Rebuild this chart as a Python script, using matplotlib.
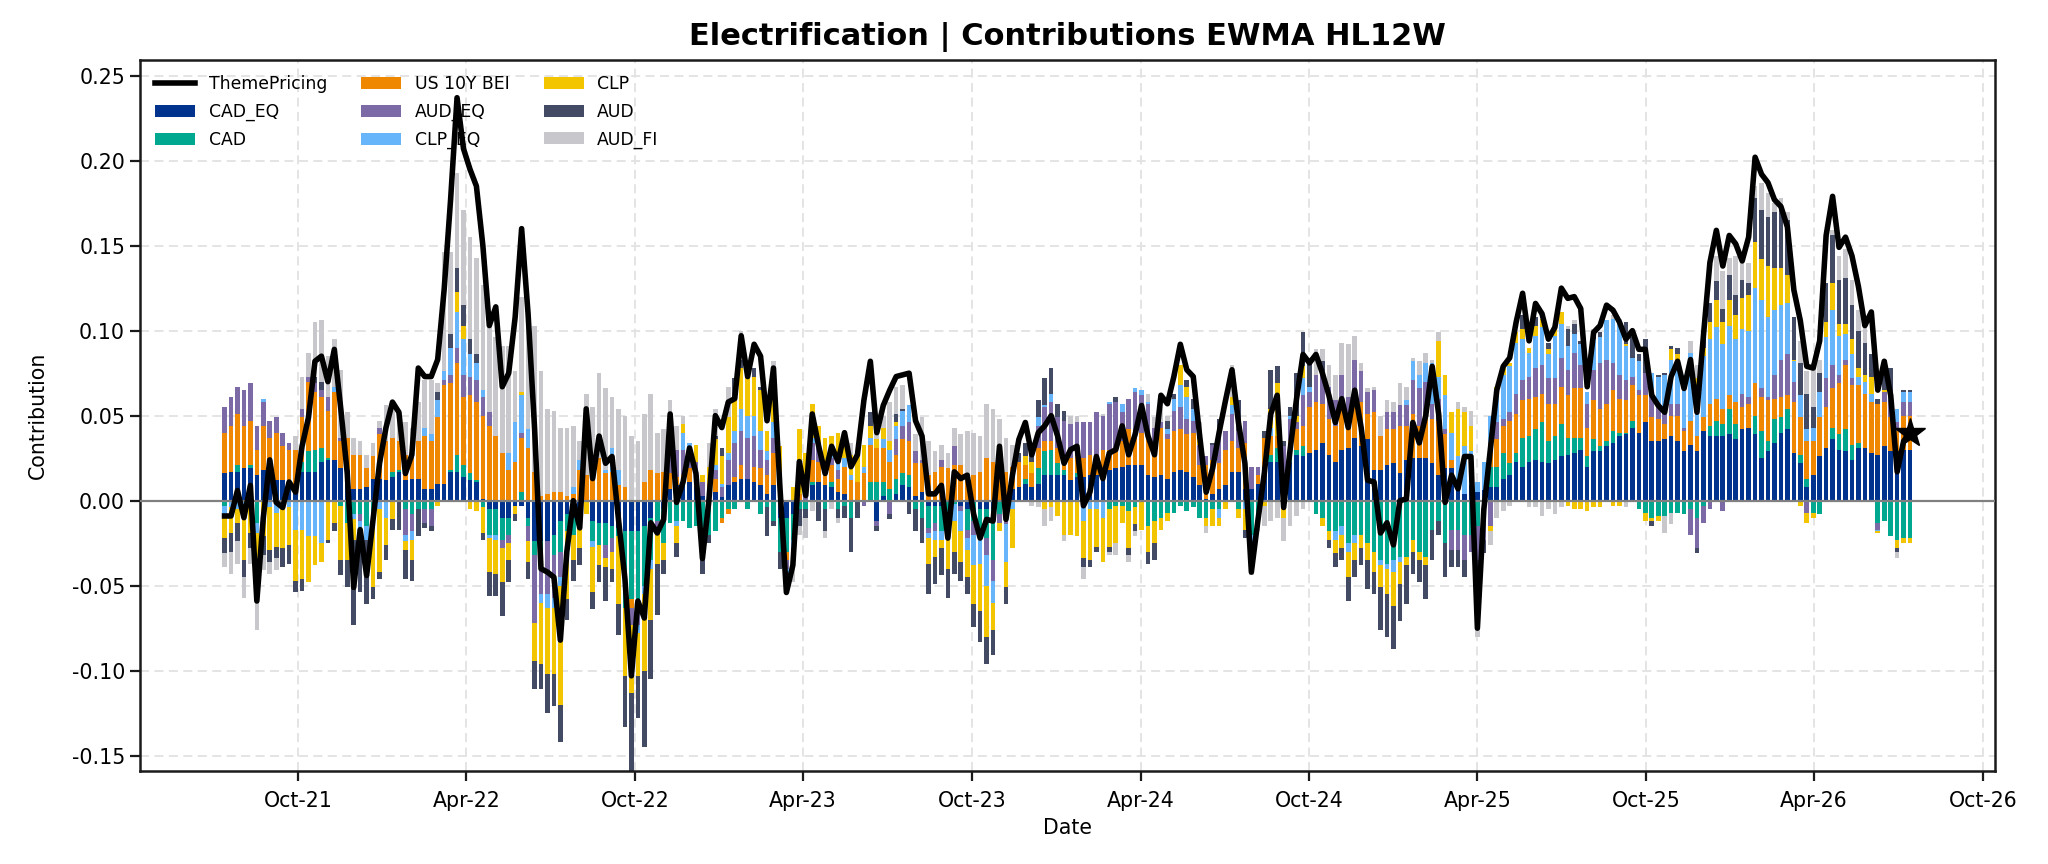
import numpy as np
import pandas as pd
import matplotlib
matplotlib.use("Agg")
import matplotlib.pyplot as plt
import matplotlib.dates as mdates
from matplotlib.patches import Patch
from matplotlib.lines import Line2D

# ---------------- data (values in thousandths) ----------------
start_date = "2021-07-13"
n_weeks = 262

theme_pricing = [
    -9, -9, 6, -10, 9, -59, -10, 24, -1, -4,
    11, 5, 32, 49, 82, 85, 70, 89, 54, 16,
    -51, -17, -44, -11, 22, 43, 58, 52, 16, 27,
    78, 73, 73, 83, 124, 177, 237, 207, 195, 185,
    150, 103, 114, 67, 75, 108, 160, 110, 43, -40,
    -42, -45, -82, -30, 0, -16, 54, 13, 38, 22,
    26, -11, -46, -103, -59, -69, -13, -19, -11, 51,
    -1, 11, 31, 16, -34, 0, 50, 43, 58, 60,
    97, 73, 92, 85, 47, 78, 8, -54, -38, 23,
    3, 51, 32, 16, 32, 23, 40, 20, 27, 59,
    82, 40, 56, 65, 73, 74, 75, 47, 38, 4,
    4, 9, -22, 17, 13, 15, -8, -22, -11, -12,
    32, -11, 15, 36, 46, 27, 40, 44, 50, 38,
    22, 30, 32, -3, 5, 26, 13, 28, 30, 44,
    27, 39, 56, 38, 27, 62, 57, 73, 92, 77,
    73, 38, 5, 19, 40, 59, 77, 46, 22, -42,
    -12, 16, 51, 62, -4, 30, 60, 86, 81, 86,
    75, 62, 46, 60, 43, 65, 43, 12, 11, -19,
    -13, -26, 0, 1, 46, 34, 50, 79, 51, -1,
    15, 7, 26, 26, -75, -5, 30, 65, 79, 84,
    105, 122, 94, 116, 110, 95, 102, 125, 119, 120,
    113, 67, 99, 103, 115, 112, 105, 95, 100, 89,
    89, 62, 56, 52, 73, 82, 66, 83, 52, 97,
    140, 159, 138, 156, 151, 141, 155, 202, 192, 187,
    177, 173, 161, 124, 106, 79, 78, 94, 156, 179,
    149, 155, 144, 126, 103, 111, 65, 82, 62, 17,
    35, 40,
]

cad_eq = [
    16, 17, 17, 19, 19, 15, 18, 17, 12, 12,
    11, 6, 17, 17, 17, 23, 24, 24, 19, 18,
    7, 7, 8, 13, 13, 12, 14, 17, 12, 13,
    13, 7, 7, 10, 10, 17, 17, 14, 12, 11,
    1, -5, -5, -10, -10, -3, -3, -10, -24, -24,
    -24, -20, -12, -8, -10, -10, 0, -12, -13, -13,
    -15, -16, -18, -18, -18, -15, -10, 0, -5, 7,
    9, 10, 11, 8, 3, 2, 5, 2, 9, 11,
    13, 13, 11, 9, 4, 9, -10, -10, -8, 0,
    0, 9, 11, 9, 8, 5, 4, 0, 0, 0,
    0, -12, 3, 0, 4, 9, 8, 3, 5, -3,
    -3, -3, 0, 0, -3, -5, 0, -5, -5, -5,
    0, 0, 7, 8, 10, 8, 10, 15, 15, 15,
    15, 12, 14, 14, 15, 15, 17, 18, 19, 20,
    21, 21, 21, 15, 14, 15, 13, 17, 18, 17,
    14, 9, 1, 4, 7, 9, 17, 17, 7, 7,
    10, 20, 23, 23, 12, 23, 27, 26, 28, 30,
    34, 27, 23, 30, 31, 37, 32, 36, 18, 18,
    21, 22, 16, 24, 25, 25, 25, 22, 15, 19,
    19, 8, 4, 9, 5, 6, 8, 8, 13, 15,
    23, 20, 23, 24, 23, 22, 24, 26, 27, 28,
    30, 20, 29, 29, 32, 34, 38, 39, 43, 40,
    46, 35, 35, 36, 38, 35, 29, 33, 29, 41,
    38, 38, 38, 39, 36, 42, 43, 39, 25, 29,
    34, 40, 42, 28, 22, 8, 15, 26, 31, 36,
    30, 29, 24, 31, 31, 28, 27, 32, 29, 29,
    30, 30,
]

cad = [
    -3, 0, 4, 0, 2, -13, 0, 0, -2, 0,
    0, 2, 6, 12, 13, 8, 1, 0, -3, -13,
    -8, -8, -15, -12, 0, 0, 3, 1, -5, -8,
    -5, -5, -5, 0, 0, 1, 10, 7, 4, 1,
    -4, -15, -15, -13, -10, 0, 5, -5, -8, -8,
    0, -12, -18, -10, -10, -5, 0, -12, -13, -13,
    -7, -5, -45, -40, -40, -35, -25, -12, -20, -13,
    -12, -12, -16, -15, -30, -20, -18, -10, -5, -5,
    0, -5, 0, -8, -4, -12, -20, -20, -15, -5,
    -5, 2, 0, -5, 3, -5, -3, -10, 0, 0,
    11, 11, 8, 7, 9, 7, 7, -5, -10, -13,
    -10, -15, -15, -2, 0, -12, -12, -17, -17, -30,
    -8, -8, 0, 0, 3, 0, 9, 14, 15, 7,
    3, 0, 2, 0, 0, 0, 0, -5, -3, -3,
    -6, -4, 0, -15, -12, -10, -7, -7, -3, -6,
    -4, -10, -10, -5, -5, 0, 0, -5, 0, -20,
    -10, 0, 4, 8, 0, 4, 3, 6, 0, -8,
    -10, -18, -18, -15, -25, -20, -20, -25, -30, -35,
    -37, -35, -33, -33, -23, -30, -33, -17, -12, -25,
    -17, -17, -20, -20, -15, -8, 12, 12, 15, 7,
    5, 17, 15, 18, 23, 13, 14, 19, 10, 9,
    7, 6, 7, 3, 3, 7, 2, 1, 4, -5,
    -7, -10, -9, -9, -7, -7, -8, -5, -10, -3,
    6, 9, 7, 15, 9, 0, 0, 11, 16, 6,
    14, 9, 12, 0, 5, 5, -7, -8, 0, 7,
    9, 13, 9, 3, 0, 0, -13, -12, -21, -23,
    -22, -22,
]

us_10y_bei = [
    24, 27, 30, 25, 26, 15, 26, 20, 28, 20,
    19, 22, 26, 41, 34, 30, 28, 40, 16, 19,
    20, 20, 11, 13, 26, 23, 20, 17, 15, 13,
    22, 31, 28, 39, 58, 51, 54, 40, 46, 46,
    49, 44, 38, 28, 18, 23, 32, 31, 17, 3,
    4, 5, 5, 3, 4, 18, 15, 22, 25, 16,
    17, 9, 8, -5, 0, 11, 18, 16, 17, 9,
    5, 5, 8, 10, 0, 8, 8, -3, -3, 3,
    8, 0, 9, 10, 11, 19, 5, -5, 0, 4,
    0, 13, 12, 8, 10, 8, 16, 12, 11, 16,
    22, 20, 20, 16, 14, 20, 20, 19, 17, 15,
    17, 20, 19, 21, 21, 15, 15, 17, 25, 23,
    20, 17, 13, 15, 8, 8, 12, 6, 5, 9,
    8, 13, 10, 11, 12, 12, 13, 12, 10, 15,
    21, 16, 19, 22, 17, 28, 23, 24, 24, 22,
    26, 12, 20, 20, 15, 21, 18, 14, 27, 0,
    5, 17, 11, 7, 0, 8, 12, 12, 27, 28,
    23, 21, 21, 24, 20, 18, 26, 15, 34, 20,
    21, 20, 28, 20, 26, 19, 26, 26, 32, 20,
    5, 0, 0, 0, 0, 0, 14, 16, 16, 25,
    23, 22, 22, 19, 17, 22, 19, 22, 25, 29,
    29, 17, 23, 22, 22, 24, 20, 19, 21, 22,
    16, 14, 13, 9, 12, 15, 12, 14, 9, 8,
    13, 13, 9, 8, 13, 13, 14, 19, 20, 24,
    12, 12, 8, 30, 22, 22, 20, 23, 24, 23,
    30, 38, 35, 34, 32, 30, 30, 26, 20, 12,
    20, 20,
]

aud_eq = [
    15, 17, 16, 21, 22, 14, 14, 10, 9, 8,
    4, 0, 5, 3, 5, 4, 8, 0, 2, 0,
    0, -4, 0, 0, 4, 0, 0, 0, -15, -10,
    0, -8, -10, 0, 3, 5, 9, 13, 11, 13,
    11, 8, 0, -5, -5, 0, 3, -9, -40, -23,
    -31, -25, -15, 0, 0, 0, 0, 5, 0, -8,
    -8, 0, 0, -10, -15, 0, 0, -5, 0, 10,
    16, 15, 10, 5, 8, 0, 5, 6, 15, 20,
    20, 24, 18, 11, 9, 9, 5, -5, 0, 0,
    10, 10, 8, 5, 4, 5, 0, 0, 0, -3,
    0, -3, 0, -8, 9, 8, 11, 7, 2, -3,
    -5, 4, 0, 11, -3, -5, -8, 0, -10, -12,
    -5, -6, 0, 0, 0, 0, 13, 20, 23, 18,
    21, 20, 20, 21, 19, 25, 20, 27, 29, 17,
    18, 27, 22, 20, 12, 3, 3, 12, 13, 9,
    7, 12, 5, 9, 18, 11, 16, 10, 13, 13,
    5, 0, 0, 0, 20, 13, 4, 18, 9, 16,
    19, 19, 15, 20, 10, 28, 18, 13, 13, 0,
    10, 10, 12, 12, 20, 22, 19, 9, 13, 3,
    -12, -12, -15, -10, -20, -15, -15, 10, 4, 5,
    12, 12, 13, 17, 17, 15, 15, 17, 15, 21,
    14, 14, 18, 27, 26, 16, 14, 12, 5, 3,
    13, 14, 8, 9, 7, 7, 2, -15, -18, -10,
    -5, 0, -6, 0, 0, 8, 4, 0, 5, 2,
    14, 22, 24, 12, 0, -7, 0, 0, 17, 14,
    5, 3, 4, 0, 0, 0, -4, 6, 10, 5,
    8, 8,
]

clp_eq = [
    -5, -4, -5, -3, -3, -6, 2, -4, -5, -3,
    -4, -17, -17, -21, -21, -25, 0, 3, 0, 0,
    -3, -10, -8, -4, -5, -10, 0, 0, -4, -5,
    0, 5, 4, 10, 5, 16, 21, 21, 13, 10,
    4, -2, -3, 0, 10, 23, 22, 11, 0, -5,
    -8, -6, -5, 0, 4, 6, 0, -3, 0, 2,
    14, 9, 0, 0, -5, -5, -5, 0, 0, 0,
    -3, 10, 5, 0, -3, 0, 3, 2, 4, 7,
    13, 13, 12, 11, 5, 9, 0, -5, -5, 0,
    0, 3, 3, 0, 3, 7, 5, 3, 0, 4,
    4, 0, 5, 7, 8, 9, 10, 0, 0, -3,
    -5, -5, -5, -10, -12, -7, -18, -15, -18, -13,
    0, -22, -5, 0, 0, 0, 5, 1, 5, 0,
    0, 0, 0, -12, -5, -5, -10, 1, 0, 5,
    0, 2, 3, 1, 0, 0, 3, 7, 13, 13,
    7, 0, 0, 0, -5, 0, 5, 0, -5, -10,
    0, 0, 5, 0, 0, 2, 0, 10, 3, 0,
    0, 0, -5, -5, -5, -5, 0, 0, 0, -3,
    -3, -7, -3, 3, 11, 8, 11, 24, 13, 20,
    16, 18, 28, 20, 6, 17, 16, 16, 26, 27,
    30, 24, 14, 19, 22, 14, 25, 20, 14, 11,
    12, 7, 18, 15, 23, 26, 30, 20, 11, 17,
    0, 12, 17, 20, 26, 26, 31, 40, 29, 36,
    38, 42, 38, 41, 37, 38, 39, 56, 52, 47,
    38, 32, 30, 12, 13, 7, 8, 15, 24, 32,
    23, 15, 14, 5, 7, 5, -1, 0, 5, 8,
    6, 6,
]

clp = [
    -14, -15, -8, -32, -16, -20, -21, -25, -20, -25,
    -22, -30, -29, -27, -17, -11, -23, -13, -32, -22,
    -12, -5, 0, -35, -37, -16, -11, 0, -5, -12,
    0, 0, 0, -3, 0, 0, 12, 8, -5, -6,
    -15, -20, -20, -20, -10, -5, 2, -12, -22, -36,
    -39, -39, -70, -40, -15, -13, -8, -27, -12, -5,
    -10, -40, -40, -40, -25, -45, -30, -20, -10, 0,
    -10, 5, 0, 10, 4, 10, 15, 16, 21, 19,
    24, 22, 23, 24, 12, 28, 22, 0, 8, 38,
    18, 20, 10, 15, 10, 15, 7, 12, 17, 13,
    7, 5, 7, 5, 2, 0, 0, 0, 0, -15,
    -10, -5, -20, -18, -18, -16, -23, -28, -30, -16,
    -5, -15, -23, 0, 5, 7, 0, -5, -4, -9,
    -20, -20, -21, -22, -30, -22, -26, -22, -22, -10,
    -22, -10, -17, -15, -13, -7, -5, 0, 12, 6,
    0, 3, -5, -10, -5, -5, 5, -5, -12, 0,
    0, -3, 11, 31, -10, 0, 4, 7, 0, 0,
    -5, -5, -8, -8, -15, -10, -8, -10, -12, -13,
    -15, -20, -13, -5, -7, -5, -5, 0, 21, 12,
    12, 28, 20, 15, 0, 0, -3, 5, 6, 2,
    6, 6, 3, 6, 5, 3, 4, 7, -3, -5,
    -5, -6, -4, -4, 0, -3, -3, 1, 0, 0,
    -5, -2, -3, 0, 6, 3, 0, 0, 5, 5,
    10, 16, 13, 15, 14, 18, 21, 27, 24, 30,
    25, 22, 17, 1, -3, -6, -3, 0, 9, 16,
    7, 6, 9, 5, 4, 10, -1, 1, 0, -5,
    -3, -3,
]

aud = [
    -9, -11, -11, -10, -9, -10, -11, -7, -7, -11,
    -11, -7, -7, 0, 4, 5, -2, -5, -9, -16,
    -50, -27, -38, -7, -4, -9, -6, -17, -17, -12,
    -16, -3, -3, 5, 0, 8, 14, 12, 9, 5,
    -4, -14, -13, -20, -13, -4, 0, -10, -17, -15,
    -23, -19, -22, -12, -12, -10, 0, -10, -10, -20,
    -8, -18, -30, -50, -25, -45, -35, -30, -8, 0,
    -8, 0, 0, 0, -10, -5, 2, 5, 0, 12,
    5, 4, 5, 2, -17, -3, -10, 0, -10, -10,
    -5, 0, -12, -13, 0, -5, -7, -20, -10, 0,
    8, -3, 0, -3, 5, 1, -8, -13, -15, -18,
    -16, -16, -17, -13, -11, -10, -13, -18, -16, -15,
    0, -10, 0, 5, 8, 5, 10, 16, 15, 8,
    6, 0, 0, -5, -4, -3, 0, -3, 3, 0,
    -4, -4, 0, -7, -10, 0, 5, 3, 0, 4,
    6, 5, 0, 1, 8, 0, 0, 18, -5, 0,
    0, 4, 23, 10, 3, 5, 25, 20, 14, 0,
    6, -5, -8, -7, -14, -10, -10, -17, -13, -25,
    -25, -25, -22, -23, -13, -13, -20, -18, -8, -20,
    -10, -10, -10, 0, -5, -8, 0, 0, 0, 0,
    0, 8, 0, 5, 0, 4, 0, 0, 10, 6,
    2, 0, 4, 3, 0, 0, 0, 13, 12, 4,
    20, -3, 1, 1, 2, 4, 0, 0, -3, 6,
    11, 11, 8, 15, 12, 11, 7, 26, 29, 29,
    33, 35, 32, 25, 19, 21, 12, 11, 23, 28,
    26, 27, 20, 22, 19, 13, 3, 18, 14, -2,
    1, 1,
]

aud_fi = [
    -8, -13, -13, -12, -9, -27, -9, -7, -7, 0,
    0, 8, 19, 14, 32, 36, 24, 28, 40, 15,
    10, 8, 8, 8, 4, 21, 18, 12, 19, 17,
    23, 28, 32, 5, 70, 48, 56, 56, 60, 57,
    62, 55, 58, 63, 63, 30, 56, 61, 86, 73,
    50, 48, 38, 40, 36, 11, 48, 28, 50, 48,
    30, 36, 42, 38, 35, 40, 45, 24, 25, 33,
    14, 5, 0, 0, 0, 14, 16, 0, 18, 0,
    17, 0, 0, 0, 0, 8, 0, -3, -10, -5,
    -12, -6, 0, -4, -5, -3, 0, 7, 0, 0,
    0, 9, 7, 23, 16, 14, 0, 10, 25, 20,
    12, 9, 9, 11, 18, 26, 25, 21, 32, 31,
    28, 20, 13, 0, 0, -3, -4, -10, -8, 0,
    -4, 5, 4, -7, 0, 0, 1, -2, -7, 0,
    -4, -3, 0, 5, 6, 17, 3, 0, 0, 0,
    0, 5, -4, 0, 0, 0, 19, 0, 0, -14,
    -8, -12, -12, -10, -14, -15, -9, -5, 0, 15,
    7, 13, 15, 19, 31, 14, 5, 2, 2, 12,
    7, 6, 13, 8, 2, 8, 6, 2, 5, 0,
    0, 4, 3, 9, -40, 0, -8, -10, -6, -3,
    0, 0, -4, -4, -9, -5, -8, -4, 2, 2,
    0, 0, 2, 0, 0, 2, 3, -4, 0, 0,
    0, 0, 0, -10, -7, 0, 0, 7, 8, 0,
    0, 15, 22, 10, 23, 10, 12, 7, 16, 14,
    5, 6, 5, 0, 13, 13, 26, 8, 0, 3,
    14, 17, 15, 12, 9, 0, 0, 0, 0, -4,
    0, 0,
]

series_names = ["CAD_EQ", "CAD", "US 10Y BEI", "AUD_EQ", "CLP_EQ", "CLP", "AUD", "AUD_FI"]
series_values = [cad_eq, cad, us_10y_bei, aud_eq, clp_eq, clp, aud, aud_fi]
series_colors = ["#00338d", "#00a88f", "#f08700", "#7b6aa6", "#66b5fa", "#f2c500", "#424b63", "#c8c8cc"]

for v in series_values + [theme_pricing]:
    assert len(v) == n_weeks, len(v)

dates = pd.date_range(start_date, periods=n_weeks, freq="7D")

# ---------------- figure ----------------
fig = plt.figure(figsize=(20.48, 8.64), dpi=100)
ax = fig.add_axes([0.0682, 0.108, 0.9741 - 0.0682, 0.9306 - 0.108])

pos_base = np.zeros(n_weeks)
neg_base = np.zeros(n_weeks)
bar_w = 5.0
handles = {}
for name, vals, col in zip(series_names, series_values, series_colors):
    v = np.array(vals, dtype=float) / 1000.0
    pos = np.where(v > 0, v, 0.0)
    neg = np.where(v < 0, v, 0.0)
    ax.bar(dates, pos, bottom=pos_base, width=bar_w, color=col, linewidth=0, zorder=2)
    ax.bar(dates, neg, bottom=neg_base, width=bar_w, color=col, linewidth=0, zorder=2)
    pos_base += pos
    neg_base += neg
    handles[name] = Patch(facecolor=col, edgecolor="none")

tp = np.array(theme_pricing, dtype=float) / 1000.0
ax.axhline(0, color="#808080", lw=1.6, zorder=3)
ax.plot(dates, tp, color="black", lw=4.0, zorder=4, solid_joinstyle="round")
ax.plot([dates[-1]], [tp[-1]], marker="*", color="black", markersize=22, zorder=5,
        linestyle="none")

ax.set_xlim(pd.Timestamp("2021-04-12"), pd.Timestamp("2026-10-14"))
ax.set_ylim(-0.1588, 0.2592)
ax.set_yticks([-0.15, -0.10, -0.05, 0.0, 0.05, 0.10, 0.15, 0.20, 0.25])
ax.yaxis.set_major_formatter(matplotlib.ticker.FormatStrFormatter("%.2f"))
ax.xaxis.set_major_locator(mdates.MonthLocator(bymonth=[4, 10]))
ax.xaxis.set_major_formatter(mdates.DateFormatter("%b-%y"))

ax.set_axisbelow(True)
ax.grid(True, linestyle=(0, (5, 3)), color="#e2e2e2", lw=1.3, zorder=0)
for s in ax.spines.values():
    s.set_linewidth(1.8)
    s.set_color("#1a1a1a")
ax.tick_params(axis="both", labelsize=14.8, length=7, width=1.6, color="#1a1a1a")
ax.tick_params(axis="x", pad=7.5)

ax.set_title("Electrification | Contributions EWMA HL12W", fontsize=22, fontweight="bold", pad=11)
ax.set_xlabel("Date", fontsize=14.8, labelpad=5.5)
ax.set_ylabel("Contribution", fontsize=14.8, labelpad=17)

order = ["ThemePricing", "CAD_EQ", "CAD", "US 10Y BEI", "AUD_EQ", "CLP_EQ", "CLP", "AUD", "AUD_FI"]
hl = [Line2D([0], [0], color="black", lw=4.0)] + [handles[n] for n in order[1:]]
ax.legend(hl, order, loc="upper left", ncol=3, frameon=False, fontsize=12.4,
          handlelength=2.3, columnspacing=2.0, labelspacing=0.55)

fig.savefig("out.png", dpi=100)
